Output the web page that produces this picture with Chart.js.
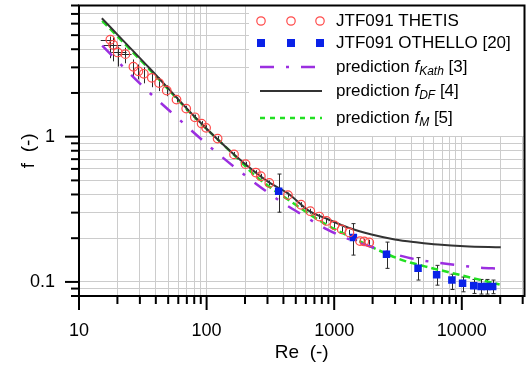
<!DOCTYPE html>
<html>
<head>
<meta charset="utf-8">
<script src="https://cdn.jsdelivr.net/npm/chart.js@4.4.0/dist/chart.umd.min.js"></script>
<style>
    html, body { margin: 0; padding: 0; background: #fff; }
    #wrap { width: 530px; height: 369px; }
</style>
</head>
<body>
<div id="wrap"><canvas id="frictionChart" width="530" height="369"></canvas></div>
<script>
// JTF091 THETIS measurements
const thetisRe  = [17.6, 18.5, 20.1, 23.1, 26.7, 29.2, 32.2, 37.2, 42.4, 48.7, 58.1, 69.2, 80.9, 91.4, 99.1, 122, 164, 202, 243, 266, 310, 434, 550, 650, 764, 870, 1004, 1146, 1315, 1593, 1721, 1883];
const thetisF   = [4.65, 4.29, 3.80, 3.70, 3.03, 2.82, 2.71, 2.54, 2.34, 2.08, 1.80, 1.56, 1.36, 1.23, 1.15, 0.97, 0.755, 0.647, 0.566, 0.534, 0.480, 0.396, 0.340, 0.307, 0.282, 0.263, 0.245, 0.230, 0.219, 0.191, 0.190, 0.187];
const thetisFHi = [4.89, 4.82, 4.17, 4.10, 3.40, 3.14, 3.00, 2.82, 2.56, 2.26, 1.88, 1.63, 1.42, 1.28, 1.20, 1.01, 0.785, 0.672, 0.588, 0.555, 0.499, 0.412, 0.354, 0.319, 0.293, 0.274, 0.255, 0.239, 0.228, 0.199, 0.198, 0.195];
const thetisFLo = [3.47, 3.30, 3.04, 3.20, 2.60, 2.48, 2.33, 2.19, 2.06, 1.90, 1.72, 1.50, 1.31, 1.18, 1.10, 0.93, 0.726, 0.622, 0.544, 0.513, 0.461, 0.381, 0.327, 0.295, 0.271, 0.253, 0.236, 0.221, 0.211, 0.184, 0.183, 0.180];
const thetisReLo = [14.8, 15.6, 17.9, 20.6];
const thetisReHi = [19.0, 21.4, 23.6, 25.8];

// JTF091 OTHELLO measurements [20]
const othelloRe  = [367, 1413, 2570, 4540, 6350, 8360, 10140, 12400, 14170, 15740, 17460];
const othelloF   = [0.421, 0.202, 0.155, 0.124, 0.112, 0.103, 0.098, 0.094, 0.093, 0.093, 0.093];
const othelloFHi = [0.553, 0.252, 0.188, 0.147, 0.130, 0.113, 0.108, 0.104, 0.104, 0.104, 0.103];
const othelloFLo = [0.302, 0.153, 0.124, 0.103, 0.095, 0.0887, 0.0855, 0.0833, 0.0825, 0.0825, 0.083];

// prediction curves
const kathRe = [15.2, 32.5, 60.9, 108, 202, 390, 575, 870, 1145, 1722, 3790, 5940, 8980, 13740, 19450];
const kathF  = [4.23, 2.17, 1.316, 0.841, 0.538, 0.353, 0.286, 0.231, 0.206, 0.181, 0.147, 0.137, 0.131, 0.1256, 0.1236];
const dfRe = [15.1, 35.6, 81.3, 164, 307, 440, 630, 902, 1291, 1963, 2985, 4540, 6500, 10500, 20200];
const dfF  = [6.53, 2.97, 1.36, 0.755, 0.486, 0.403, 0.310, 0.269, 0.236, 0.212, 0.196, 0.187, 0.181, 0.176, 0.173];
const mRe = [15.2, 35.6, 81.3, 164, 241, 467, 849, 1742, 3365, 5120, 7780, 11830, 19800];
const mF  = [6.27, 2.91, 1.35, 0.749, 0.538, 0.353, 0.251, 0.183, 0.142, 0.128, 0.117, 0.107, 0.096];

const xTickLabels = [10, 100, 1000, 10000];
const yTickLabels = [0.1, 1];

const FONT = "'Liberation Sans', Arial, sans-serif";
const RED = '#ff4a4a', BLUE = '#0a22e8', PURPLE = '#9b2fe0', BLACK = '#333333', GREEN = '#22e022';
const KATH_DASH = [14, 12, 3, 12];
const M_DASH = [7, 4];

const pts = (xs, ys) => xs.map((v, i) => ({ x: v, y: ys[i] }));

// 1..9 x 10^n grid positions between min and max
const logGrid = (min, max) => {
    const out = [];
    for (let e = -3; e <= 6; e++) {
        for (let m = 1; m <= 9; m++) {
            const v = Number((m * Math.pow(10, e)).toPrecision(3));
            if (v >= min * 0.999 && v <= max * 1.001) out.push(v);
        }
    }
    return out;
};

const seg = (ctx, x1, y1, x2, y2) => {
    ctx.beginPath();
    ctx.moveTo(x1, y1);
    ctx.lineTo(x2, y2);
    ctx.stroke();
};

// Error bars drawn under the markers
const errorBars = {
    id: 'errorBars',
    beforeDatasetsDraw(chart) {
        const { ctx, scales: { x, y } } = chart;
        ctx.save();
        ctx.strokeStyle = '#2a2a2a';
        ctx.lineWidth = 1;
        thetisRe.forEach((re, i) => {
            const px = Math.round(x.getPixelForValue(re)) + 0.5;
            seg(ctx, px, y.getPixelForValue(thetisFHi[i]), px, y.getPixelForValue(thetisFLo[i]));
            if (thetisReLo[i] != null) {
                const py = Math.round(y.getPixelForValue(thetisF[i])) + 0.5;
                seg(ctx, x.getPixelForValue(thetisReLo[i]), py, x.getPixelForValue(thetisReHi[i]), py);
            }
        });
        othelloRe.forEach((re, i) => {
            const px = Math.round(x.getPixelForValue(re)) + 0.5;
            const top = y.getPixelForValue(othelloFHi[i]);
            const bot = y.getPixelForValue(othelloFLo[i]);
            seg(ctx, px, top, px, bot);
            seg(ctx, px - 2, top, px + 2, top);
            seg(ctx, px - 2, bot, px + 2, bot);
        });
        ctx.restore();
    }
};

// Rich text with italic f and subscripts
const drawRich = (ctx, parts, x, y) => {
    parts.forEach(p => {
        const size = p.sub ? 12 : 17;
        ctx.font = (p.italic ? 'italic ' : '') + size + 'px ' + FONT;
        ctx.fillText(p.t, x, p.sub ? y + 5 : y);
        x += ctx.measureText(p.t).width;
    });
};

const legendItems = [
    { kind: 'circle', y: 21, parts: [{ t: 'JTF091 THETIS' }] },
    { kind: 'square', y: 43, parts: [{ t: 'JTF091 OTHELLO [20]' }] },
    { kind: 'line', color: PURPLE, dash: KATH_DASH, width: 2.5, y: 67,
      parts: [{ t: 'prediction ' }, { t: 'f', italic: true }, { t: 'Kath', italic: true, sub: true }, { t: ' [3]' }] },
    { kind: 'line', color: BLACK, dash: [], width: 2, y: 91,
      parts: [{ t: 'prediction ' }, { t: 'f', italic: true }, { t: 'DF', italic: true, sub: true }, { t: ' [4]' }] },
    { kind: 'line', color: GREEN, dash: [5, 5], width: 2.5, y: 118,
      parts: [{ t: 'prediction ' }, { t: 'f', italic: true }, { t: 'M', italic: true, sub: true }, { t: ' [5]' }] }
];

// Legend box, frame and outward ticks
const frame = {
    id: 'frame',
    afterDraw(chart) {
        const { ctx, chartArea: a, scales: { x, y } } = chart;
        ctx.save();

        ctx.fillStyle = '#fff';
        ctx.fillRect(249, a.top, a.right - 249, 136 - a.top);
        legendItems.forEach(item => {
            if (item.kind === 'circle') {
                ctx.strokeStyle = RED;
                ctx.lineWidth = 1.2;
                [261, 291, 320].forEach(cx => { ctx.beginPath(); ctx.arc(cx, item.y, 4.2, 0, Math.PI * 2); ctx.stroke(); });
            } else if (item.kind === 'square') {
                ctx.fillStyle = BLUE;
                [261, 291, 320].forEach(cx => ctx.fillRect(cx - 4, item.y - 4, 8, 8));
            } else {
                ctx.strokeStyle = item.color;
                ctx.lineWidth = item.width;
                ctx.setLineDash(item.dash);
                seg(ctx, 260, item.y, 322, item.y);
                ctx.setLineDash([]);
            }
            ctx.fillStyle = '#000';
            ctx.textBaseline = 'middle';
            drawRich(ctx, item.parts, 336, item.y);
        });

        ctx.strokeStyle = '#000';
        ctx.lineWidth = 2;
        ctx.strokeRect(a.left, a.top, a.right - a.left, a.bottom - a.top);
        x.ticks.forEach(t => {
            const px = x.getPixelForValue(t.value);
            const len = xTickLabels.includes(t.value) ? 14 : 8;
            seg(ctx, px, a.bottom, px, a.bottom + len);
        });
        y.ticks.forEach(t => {
            const py = y.getPixelForValue(t.value);
            const len = yTickLabels.includes(t.value) ? 14 : 8;
            seg(ctx, a.left, py, a.left - len, py);
        });
        ctx.restore();
    }
};

const lineSet = (label, xs, ys, color, width, dash) => ({
    label,
    data: pts(xs, ys),
    showLine: true,
    borderColor: color,
    borderWidth: width,
    borderDash: dash,
    pointRadius: 0,
    cubicInterpolationMode: 'monotone',
    fill: false
});

new Chart(document.getElementById('frictionChart').getContext('2d'), {
    type: 'scatter',
    data: {
        datasets: [
            {
                label: 'JTF091 THETIS',
                data: pts(thetisRe, thetisF),
                pointStyle: 'circle',
                pointRadius: 4.3,
                pointBorderWidth: 1.2,
                borderColor: RED,
                backgroundColor: 'rgba(0,0,0,0)'
            },
            {
                label: 'JTF091 OTHELLO [20]',
                data: pts(othelloRe, othelloF),
                pointStyle: 'rect',
                pointRadius: 5.3,
                pointBorderWidth: 0,
                borderColor: BLUE,
                backgroundColor: BLUE
            },
            lineSet('prediction fKath [3]', kathRe, kathF, PURPLE, 2.5, KATH_DASH),
            lineSet('prediction fDF [4]', dfRe, dfF, BLACK, 2, []),
            lineSet('prediction fM [5]', mRe, mF, GREEN, 2.5, M_DASH)
        ]
    },
    options: {
        responsive: false,
        animation: false,
        devicePixelRatio: 1,
        layout: { padding: { left: 0, right: 3, top: 4, bottom: 0 } },
        plugins: {
            legend: { display: false },
            tooltip: { enabled: false }
        },
        scales: {
            x: {
                type: 'logarithmic',
                min: 10,
                max: 31000,
                afterBuildTicks: scale => { scale.ticks = logGrid(10, 31000).map(v => ({ value: v })); },
                afterFit: scale => {
                    scale.height = 73;
                    scale.paddingLeft = 0;
                    scale.paddingRight = 0;
                },
                border: { display: false },
                grid: { color: '#cccccc', lineWidth: 1, drawTicks: false },
                ticks: {
                    autoSkip: false,
                    maxRotation: 0,
                    padding: 24,
                    color: '#000',
                    font: { family: FONT, size: 18 },
                    callback: v => xTickLabels.includes(v) ? String(v) : ''
                },
                title: {
                    display: true,
                    text: 'Re  (-)',
                    color: '#000',
                    font: { family: FONT, size: 19 },
                    padding: { top: 0, bottom: 5 }
                }
            },
            y: {
                type: 'logarithmic',
                min: 0.08,
                max: 8,
                afterBuildTicks: scale => { scale.ticks = logGrid(0.08, 8).map(v => ({ value: v })); },
                afterFit: scale => {
                    scale.width = 79;
                    scale.paddingTop = 0;
                    scale.paddingBottom = 0;
                },
                border: { display: false },
                grid: { color: '#cccccc', lineWidth: 1, drawTicks: false },
                ticks: {
                    autoSkip: false,
                    padding: 24,
                    color: '#000',
                    font: { family: FONT, size: 18 },
                    callback: v => yTickLabels.includes(v) ? String(v) : ''
                },
                title: {
                    display: true,
                    text: 'f  (-)',
                    color: '#000',
                    font: { family: FONT, size: 19 },
                    padding: { top: 17, bottom: 0 }
                }
            }
        }
    },
    plugins: [errorBars, frame]
});
</script>
</body>
</html>
